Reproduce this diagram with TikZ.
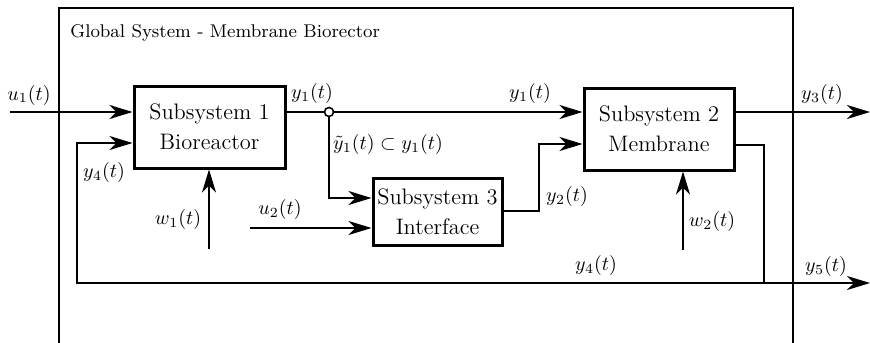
\documentclass[tikz,border=0pt]{standalone}
\usetikzlibrary{arrows.meta,calc}
\begin{document}
\begin{tikzpicture}[x=0.5pt,y=-0.5pt,
  blk/.style={draw,line width=1.5pt,align=center,inner sep=0pt,
    font=\fontsize{11.2}{15}\selectfont},
  conn/.style={line width=0.95pt},
  arr/.style={conn,-{Stealth[length=11.5pt,width=7pt,inset=3.5pt]}},
  lbl/.style={inner sep=0pt,font=\fontsize{10}{12}\selectfont},
  frame/.style={line width=1.1pt}]
\useasboundingbox (0,0) rectangle (870,342);
% outer frame
\coordinate (fbl) at (59,350);
\coordinate (ftl) at (59,8);
\coordinate (ftr) at (793,8);
\coordinate (fbr) at (793,350);
\draw[frame] (fbl) -- (ftl) -- (ftr) -- (fbr);
\node[anchor=west,inner sep=0pt,font=\fontsize{9.2}{11}\selectfont] (title) at (70,33) {Global System - Membrane Biorector};
% blocks
\node[blk,minimum width=75.5pt,minimum height=41pt] (S1) at (209.5,127) {Subsystem 1\\Bioreactor};
\node[blk,minimum width=75pt,minimum height=41pt] (S2) at (659,129) {Subsystem 2\\Membrane};
\node[blk,minimum width=64.5pt,minimum height=33.5pt] (S3) at (437.5,211.5) {Subsystem 3\\Interface};
% coordinates
\coordinate (u1s) at (10,112);
\coordinate (split) at (329,112);
\coordinate (sdown) at (329,198);
\coordinate (u2s) at (250,228);
\coordinate (w1s) at (209,249);
\coordinate (w2s) at (683,250);
\coordinate (y2a) at (539,211);
\coordinate (y2b) at (539,144);
\coordinate (fbA) at (764,145);
\coordinate (fbB) at (764,283);
\coordinate (fbC) at (77,283);
\coordinate (fbD) at (77,143);
\coordinate (y3e) at (870,112);
\coordinate (y5e) at (870,283);
% connectors
\draw[arr] (u1s) -- (u1s -| S1.west);
\draw[conn] (split -| S1.east) -- (split);
\draw[arr] (split) -- (split -| S2.west);
\draw[arr] (split) -- (sdown) -- (sdown -| S3.west);
\draw[arr] (u2s) -- (u2s -| S3.west);
\draw[arr] (w1s) -- (w1s |- S1.south);
\draw[arr] (w2s) -- (w2s |- S2.south);
\draw[arr] (y2a -| S3.east) -- (y2a) -- (y2b) -- (y2b -| S2.west);
\draw[conn] (fbA -| S2.east) -- (fbA) -- (fbB);
\draw[arr] (fbB) -- (fbC) -- (fbD) -- (fbD -| S1.west);
\draw[arr] (fbB) -- (y5e);
\draw[arr] (y3e -| S2.east) -- (y3e);
\node[circle,draw,fill=white,line width=0.8pt,inner sep=0pt,minimum size=4.5pt] (c) at (split) {};
% labels
\node[lbl] (lu1) at (29,95) {$u_1(t)$};
\node[lbl] (ly1a) at (312,93) {$y_1(t)$};
\node[lbl] (ly1b) at (530,93) {$y_1(t)$};
\node[lbl] (ly3) at (822,94) {$y_3(t)$};
\node[lbl] (lyt) at (388,144) {$\tilde{y}_1(t)\subset y_1(t)$};
\node[lbl] (ly4a) at (104,172) {$y_4(t)$};
\node[lbl] (lw1) at (178,219) {$w_1(t)$};
\node[lbl] (lu2) at (280,209) {$u_2(t)$};
\node[lbl] (ly2) at (567,196) {$y_2(t)$};
\node[lbl] (lw2) at (712,221) {$w_2(t)$};
\node[lbl] (ly4b) at (596,265) {$y_4(t)$};
\node[lbl] (ly5) at (826,266) {$y_5(t)$};
\end{tikzpicture}
\end{document}
